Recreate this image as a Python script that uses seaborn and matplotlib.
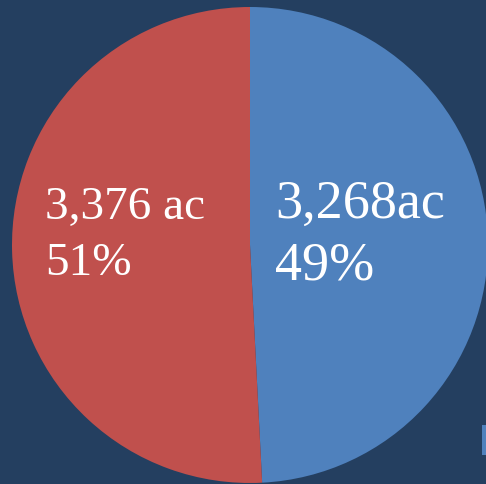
import matplotlib
matplotlib.use("Agg")
import matplotlib.pyplot as plt
import seaborn as sns
from matplotlib.patches import Rectangle

sns.set_theme(style="white")
plt.rcParams['font.family'] = ['Liberation Serif', 'DejaVu Serif']

categories = ["Series A", "Series B"]
acres = [3268, 3376]
labels = ["3,268ac\n49%", "3,376 ac\n51%"]
colors = ["#4F81BD", "#C0504D"]
bg = "#243F60"

W, H = 486, 484
fig = plt.figure(figsize=(W / 100, H / 100), dpi=100, facecolor=bg)
cx, cy, r = 250, 245, 238
ax = fig.add_axes([(cx - r) / W, (H - cy - r) / H, 2 * r / W, 2 * r / H])
ax.set_facecolor(bg)
ax.pie(acres, colors=colors, startangle=90, counterclock=False,
       wedgeprops=dict(linewidth=0))
ax.set_xlim(-1, 1)
ax.set_ylim(-1, 1)
ax.set_aspect("equal")
ax.axis("off")

# labels (pixel positions converted to figure fraction)
fig.text(275 / W, 1 - 179 / H, labels[0], color="white", fontsize=39,
         va="top", ha="left", linespacing=1.3)
fig.text(45 / W, 1 - 187 / H, labels[1], color="white", fontsize=34,
         va="top", ha="left", linespacing=1.4)

# legend key, mostly off the right edge
fig.patches.append(Rectangle((482 / W, 1 - 455 / H), 10 / W, 30 / H,
                             transform=fig.transFigure, facecolor=colors[0],
                             edgecolor="none"))

fig.savefig("out.png", dpi=100, facecolor=bg)
